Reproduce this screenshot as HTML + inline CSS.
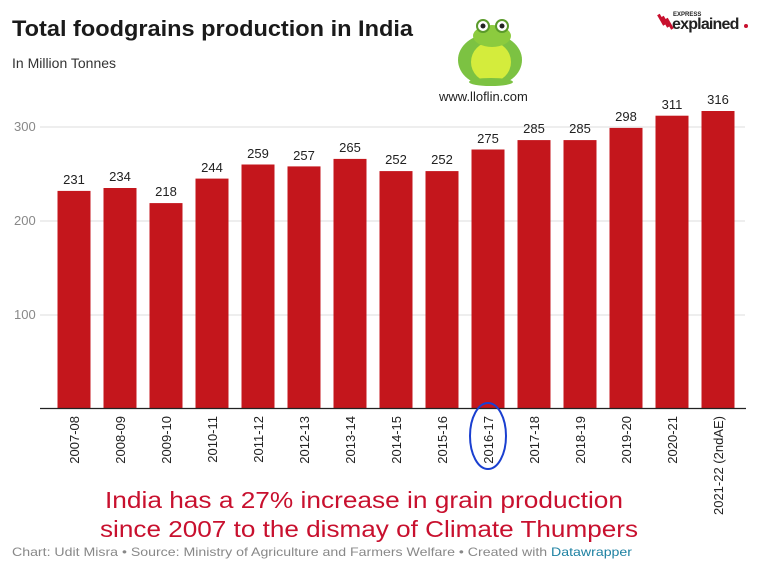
<!DOCTYPE html>
<html><head><meta charset="utf-8"><style>
body{margin:0;background:#fff;}
svg{display:block;font-family:"Liberation Sans","DejaVu Sans",sans-serif;}
</style></head><body>
<svg width="759" height="571" viewBox="0 0 759 571">
<rect width="759" height="571" fill="#fff"/>
<text x="12" y="36" font-size="22" font-weight="bold" fill="#1a1a1a" textLength="401" lengthAdjust="spacingAndGlyphs">Total foodgrains production in India</text>
<text x="12" y="68" font-size="14" fill="#333">In Million Tonnes</text>
<g>
<ellipse cx="490" cy="60" rx="32" ry="26" fill="#7cc242"/>
<ellipse cx="491" cy="62" rx="20" ry="20" fill="#d4ec3c"/>
<ellipse cx="492" cy="36" rx="19" ry="11" fill="#8ccb3e"/>
<circle cx="483" cy="26" r="6" fill="#fff" stroke="#5a9a2a" stroke-width="2"/>
<circle cx="502" cy="26" r="6" fill="#fff" stroke="#5a9a2a" stroke-width="2"/>
<circle cx="483" cy="26" r="2.5" fill="#222"/>
<circle cx="502" cy="26" r="2.5" fill="#222"/>
<ellipse cx="491" cy="82" rx="22" ry="4" fill="#7cc242"/>
</g>
<text x="439" y="101" font-size="13" fill="#222">www.lloflin.com</text>
<g fill="#c8102e"><rect x="660" y="14" width="3" height="12" transform="rotate(-30 661 20)"/><rect x="664" y="16" width="3" height="12" transform="rotate(-30 665 22)"/><rect x="668" y="18" width="3" height="12" transform="rotate(-30 669 24)"/></g>
<text x="673" y="16" font-size="6" font-weight="bold" fill="#222">EXPRESS</text>
<text x="672" y="29" font-size="16" font-weight="bold" fill="#222" letter-spacing="-0.8">explained</text>
<circle cx="746" cy="26" r="2" fill="#c8102e"/>
<g stroke="#ddd" stroke-width="1">
<line x1="40" y1="127" x2="745" y2="127"/>
<line x1="40" y1="221" x2="745" y2="221"/>
<line x1="40" y1="315" x2="745" y2="315"/>
</g>
<g font-size="13" fill="#888">
<text x="14" y="131">300</text><text x="14" y="225">200</text><text x="14" y="319">100</text>
</g>
<g fill="#c4161c">
<rect x="57.5" y="190.9" width="33" height="217.1"/>
<rect x="103.5" y="188.0" width="33" height="220"/>
<rect x="149.5" y="203.1" width="33" height="204.9"/>
<rect x="195.5" y="178.6" width="33" height="229.4"/>
<rect x="241.5" y="164.5" width="33" height="243.5"/>
<rect x="287.5" y="166.4" width="33" height="241.6"/>
<rect x="333.5" y="158.9" width="33" height="249.1"/>
<rect x="379.5" y="171.1" width="33" height="236.9"/>
<rect x="425.5" y="171.1" width="33" height="236.9"/>
<rect x="471.5" y="149.5" width="33" height="258.5"/>
<rect x="517.5" y="140.1" width="33" height="267.9"/>
<rect x="563.5" y="140.1" width="33" height="267.9"/>
<rect x="609.5" y="127.9" width="33" height="280.1"/>
<rect x="655.5" y="115.7" width="33" height="292.3"/>
<rect x="701.5" y="111.0" width="33" height="297"/>
</g>
<g font-size="13" fill="#222" text-anchor="middle">
<text x="74" y="184">231</text>
<text x="120" y="181">234</text>
<text x="166" y="196">218</text>
<text x="212" y="172">244</text>
<text x="258" y="158">259</text>
<text x="304" y="160">257</text>
<text x="350" y="152">265</text>
<text x="396" y="164">252</text>
<text x="442" y="164">252</text>
<text x="488" y="143">275</text>
<text x="534" y="133">285</text>
<text x="580" y="133">285</text>
<text x="626" y="121">298</text>
<text x="672" y="109">311</text>
<text x="718" y="104">316</text>
</g>
<g font-size="13" fill="#222" text-anchor="end">
<text transform="translate(79,416) rotate(-90)">2007-08</text>
<text transform="translate(125,416) rotate(-90)">2008-09</text>
<text transform="translate(171,416) rotate(-90)">2009-10</text>
<text transform="translate(217,416) rotate(-90)">2010-11</text>
<text transform="translate(263,416) rotate(-90)">2011-12</text>
<text transform="translate(309,416) rotate(-90)">2012-13</text>
<text transform="translate(355,416) rotate(-90)">2013-14</text>
<text transform="translate(401,416) rotate(-90)">2014-15</text>
<text transform="translate(447,416) rotate(-90)">2015-16</text>
<text transform="translate(493,416) rotate(-90)">2016-17</text>
<text transform="translate(539,416) rotate(-90)">2017-18</text>
<text transform="translate(585,416) rotate(-90)">2018-19</text>
<text transform="translate(631,416) rotate(-90)">2019-20</text>
<text transform="translate(677,416) rotate(-90)">2020-21</text>
<text transform="translate(723,416) rotate(-90)">2021-22 (2ndAE)</text>
</g>
<line x1="40" y1="408.5" x2="746" y2="408.5" stroke="#222" stroke-width="1.3"/>
<ellipse cx="488" cy="436" rx="18" ry="33" fill="none" stroke="#1a3fd0" stroke-width="2"/>
<text x="105" y="508" font-size="23" fill="#c8102e" textLength="518" lengthAdjust="spacingAndGlyphs">India has a 27% increase in grain production</text>
<text x="100" y="537" font-size="23" fill="#c8102e" textLength="538" lengthAdjust="spacingAndGlyphs">since 2007 to the dismay of Climate Thumpers</text>
<text x="12" y="556" font-size="12" fill="#888" textLength="620" lengthAdjust="spacingAndGlyphs">Chart: Udit Misra • Source: Ministry of Agriculture and Farmers Welfare • Created with <tspan fill="#1d81a2">Datawrapper</tspan></text>
</svg>
</body></html>
